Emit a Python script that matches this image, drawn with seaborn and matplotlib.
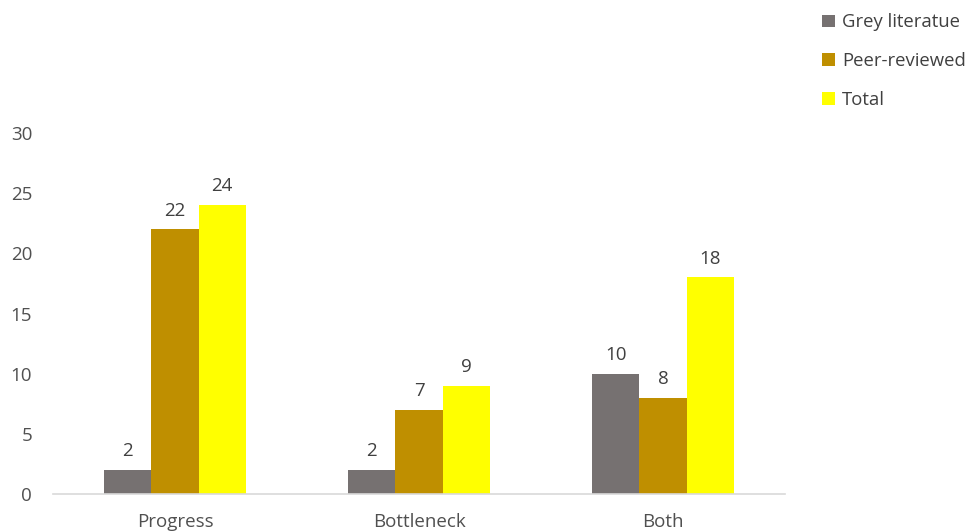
import matplotlib
matplotlib.use("Agg")
import matplotlib.pyplot as plt
import seaborn as sns
import pandas as pd
from matplotlib.patches import Patch

categories = ["Progress", "Bottleneck", "Both"]
series = ["Grey literatue", "Peer-reviewed", "Total"]
grey_vals = [2, 2, 10]
peer_vals = [22, 7, 8]
total_vals = [24, 9, 18]
colors = ["#767171", "#BF8F00", "#FFFF00"]

rows = []
for s, vals in zip(series, [grey_vals, peer_vals, total_vals]):
    for c, v in zip(categories, vals):
        rows.append({"category": c, "series": s, "value": v})
df = pd.DataFrame(rows)

sns.set_theme(style="white")
plt.rcParams["font.family"] = ["Open Sans", "DejaVu Sans"]

fig = plt.figure(figsize=(9.66, 5.31), dpi=100)
ax = fig.add_axes([0.0549, 0.0697, 0.7577, 0.6798])

sns.barplot(data=df, x="category", y="value", hue="series", order=categories,
            hue_order=series, palette=colors, width=0.58, saturation=1,
            linewidth=0, edgecolor="none", ax=ax, legend=False)

for cont in ax.containers:
    ax.bar_label(cont, padding=7, fontsize=13.5, color="#404040")

ax.set_ylim(0, 30)
ax.set_yticks(range(0, 31, 5))
ax.set_xlim(-0.5, 2.5)
ax.set_xlabel("")
ax.set_ylabel("")
for side in ["top", "right", "left"]:
    ax.spines[side].set_visible(False)
ax.spines["bottom"].set_color("#D9D9D9")
ax.spines["bottom"].set_linewidth(1.2)
ax.tick_params(axis="y", length=0, labelsize=13.5, labelcolor="#505050", pad=15)
ax.tick_params(axis="x", length=0, labelsize=13.5, labelcolor="#505050", pad=14)

handles = [Patch(facecolor=c, edgecolor="none") for c in colors]
fig.legend(handles, series, loc="upper left", bbox_to_anchor=(0.838, 0.999),
           frameon=False, fontsize=13.3, handlelength=0.7, handleheight=0.7,
           handletextpad=0.35, labelspacing=1.12, labelcolor="#404040",
           borderaxespad=0.3)

fig.savefig("out.png", dpi=100)
